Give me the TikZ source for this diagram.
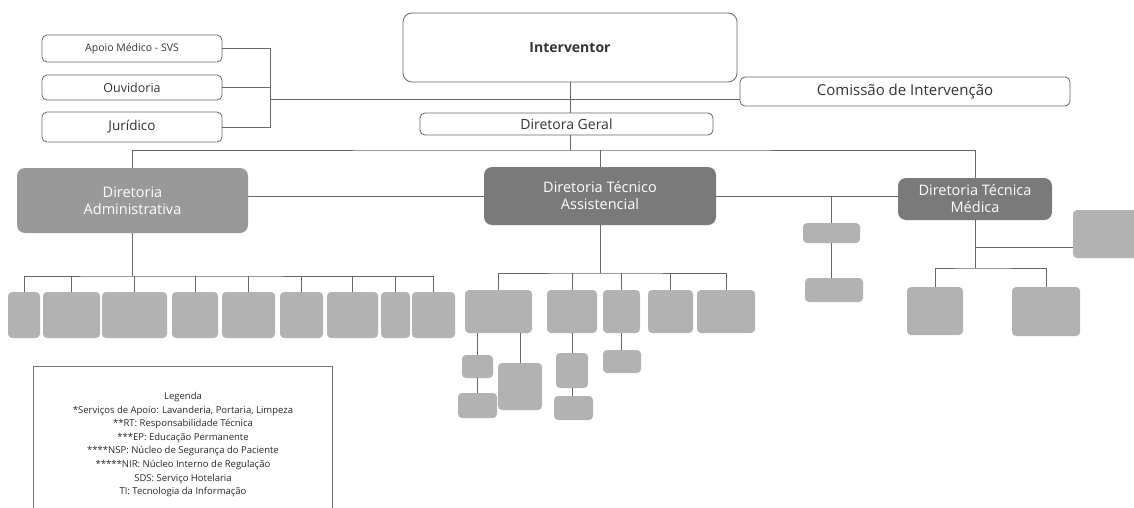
\documentclass[tikz,border=0pt]{standalone}
\usepackage{fontspec}
\setmainfont{Open Sans}
\newcommand\mybox[7]{\node[#2, minimum width={(#5-#3)*1pt}, minimum height={(#6-#4)*1pt}] (#1) at ({(#3+#5)/2},{(#4+#6)/2}) {#7};}
\begin{document}
\begin{tikzpicture}[x=1pt,y=-1pt,
  wbox/.style={draw=black!60, line width=0.8pt, rounded corners=5pt, fill=white, inner sep=0pt, align=center, text=black!80},
  dbox/.style={fill=black!52, rounded corners=8pt, text=white, inner sep=0pt, align=center, font=\fontsize{14.5}{17}\selectfont},
  mbox/.style={fill=black!40, rounded corners=8pt, text=white, inner sep=0pt, align=center, font=\fontsize{14.5}{17}\selectfont},
  sbox/.style={fill=black!30, rounded corners=4pt, inner sep=0pt},
  conn/.style={draw=black!60, line width=0.8pt}]
\useasboundingbox (0,0) rectangle (1134,508);
% top boxes
\mybox{apoio}{wbox,font=\fontsize{10.5}{12}\selectfont}{42}{35}{222}{62}{Apoio Médico - SVS}
\mybox{ouv}{wbox,font=\fontsize{12.5}{14}\selectfont}{42}{75}{222}{100}{Ouvidoria}
\mybox{jur}{wbox,font=\fontsize{13.5}{15}\selectfont}{42}{112}{222}{142}{Jurídico}
\mybox{interv}{wbox,rounded corners=9pt,font=\fontsize{14}{16}\selectfont\bfseries}{403}{13}{737}{82}{Interventor}
\mybox{com}{wbox,font=\fontsize{15}{17}\selectfont}{740}{77}{1070}{106}{Comissão de Intervenção}
\mybox{dg}{wbox,font=\fontsize{14}{16}\selectfont}{420}{113}{713}{135}{Diretora Geral}
% directorates
\mybox{adm}{mbox}{17}{168}{248}{233}{Diretoria\\Administrativa}
\mybox{tas}{dbox}{484}{167}{716}{225}{Diretoria Técnico\\Assistencial}
\mybox{tmed}{dbox}{898}{178}{1052}{220}{Diretoria Técnica\\Médica}
% right side small boxes
\mybox{sm1}{sbox}{803}{223}{860}{243}{}
\mybox{sm2}{sbox}{805}{278}{863}{302}{}
\mybox{rbox}{sbox}{1073}{210}{1150}{258}{}
\mybox{tm1}{sbox}{907}{287}{963}{335}{}
\mybox{tm2}{sbox}{1012}{287}{1080}{336}{}
% administrative row
\mybox{a1}{sbox}{8}{292}{40}{338}{}
\mybox{a2}{sbox}{43}{292}{100}{338}{}
\mybox{a3}{sbox}{102}{292}{167}{338}{}
\mybox{a4}{sbox}{172}{292}{218}{338}{}
\mybox{a5}{sbox}{222}{292}{275}{338}{}
\mybox{a6}{sbox}{280}{292}{323}{338}{}
\mybox{a7}{sbox}{327}{292}{378}{338}{}
\mybox{a8}{sbox}{381}{292}{410}{338}{}
\mybox{a9}{sbox}{412}{292}{455}{338}{}
% assistencial row
\mybox{t1}{sbox}{465}{290}{532}{333}{}
\mybox{t2}{sbox}{547}{290}{597}{333}{}
\mybox{t3}{sbox}{603}{290}{640}{333}{}
\mybox{t4}{sbox}{648}{290}{693}{333}{}
\mybox{t5}{sbox}{697}{290}{755}{333}{}
\mybox{t1a}{sbox}{462}{355}{493}{378}{}
\mybox{t1b}{sbox}{458}{393}{497}{418}{}
\mybox{t1c}{sbox}{498}{363}{542}{410}{}
\mybox{t2a}{sbox}{556}{353}{588}{388}{}
\mybox{t2b}{sbox}{554}{396}{593}{420}{}
\mybox{t3a}{sbox}{603}{350}{641}{373}{}
% connectors top
\coordinate (brk) at (270,99);
\draw[conn] (apoio.east) -| (brk);
\draw[conn] (jur.east) -| (brk);
\draw[conn] (ouv.east) -- (ouv.east -| brk);
\draw[conn] (brk) -- (brk -| com.west);
\draw[conn] (interv.south) -- (interv.south |- dg.north);
\coordinate (db) at (570,150);
\draw[conn] (db |- dg.south) -- (db);
\draw[conn] (adm.north) |- (db) -| (tmed.north);
\draw[conn] (tas.north |- db) -- (tas.north);
\draw[conn] (adm.east |- tas.west) -- (tas.west);
\draw[conn] (tas.east) -- (tas.east -| tmed.west);
\draw[conn] (sm1.north |- tas.east) -- (sm1.north);
\draw[conn] (sm1.south) -- (sm1.south |- sm2.north);
% medica
\coordinate (mb) at (975,268);
\coordinate (mj) at (975,247);
\draw[conn] (tmed.south) -- (mb);
\draw[conn] (tm1.north) |- (mb) -| (tm2.north);
\draw[conn] (mj) -- (mj -| rbox.west);
% administrativa
\coordinate (ab) at (135,276);
\draw[conn] (adm.south) -- (adm.south |- ab);
\draw[conn] (a1.north) |- (ab) -| (a9.north);
\foreach \n in {a2,a3,a4,a5,a6,a7,a8} \draw[conn] (\n.north) -- (\n.north |- ab);
% assistencial
\coordinate (tb) at (600,273);
\draw[conn] (tas.south) -- (tb);
\draw[conn] (t1.north) |- (tb) -| (t5.north);
\foreach \n in {t2,t3,t4} \draw[conn] (\n.north) -- (\n.north |- tb);
\draw[conn] (t1a.north |- t1.south) -- (t1a.north);
\draw[conn] (t1a.south) -- (t1a.south |- t1b.north);
\draw[conn] (t1c.north |- t1.south) -- (t1c.north);
\draw[conn] (t2.south) -- (t2.south |- t2a.north);
\draw[conn] (t2a.south) -- (t2a.south |- t2b.north);
\draw[conn] (t3.south) -- (t3.south |- t3a.north);
% legend
\node[draw=black!55, line width=0.6pt, minimum width=299pt, minimum height=160pt, anchor=north west, inner sep=0pt] (leg) at (33,366) {};
\node[anchor=north, align=center, inner sep=0pt, text=black!85, font=\fontsize{9.5}{13.6}\selectfont] (legtxt) at (183,392) {Legenda\\
*Serviços de Apoio: Lavanderia, Portaria, Limpeza\\
**RT: Responsabilidade Técnica\\
***EP: Educação Permanente\\
****NSP: Núcleo de Segurança do Paciente\\
*****NIR: Núcleo Interno de Regulação\\
SDS: Serviço Hotelaria\\
TI: Tecnologia da Informação};
\end{tikzpicture}
\end{document}
